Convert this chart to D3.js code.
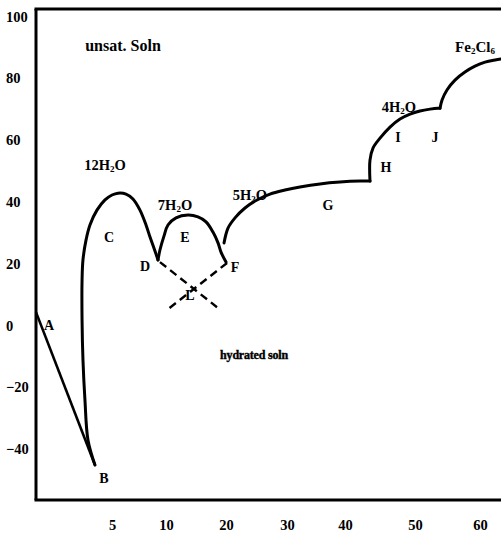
<!DOCTYPE html>
<html>
<head>
<meta charset="utf-8">
<script src="https://cdn.jsdelivr.net/npm/d3@7"></script>
<style>
  html, body { margin: 0; padding: 0; background: #fff; }
  svg { display: block; }
  text { font-family: "Liberation Serif", "DejaVu Serif", serif; font-weight: bold; fill: #000; }
</style>
</head>
<body>
<script>
// ---- Data (x: composition axis, y: temperature °C) ----
const xTickValues = [5, 10, 20, 30, 40, 50, 60];
const yTickValues = [100, 80, 60, 40, 20, 0, -20, -40];

// ice line A -> B
const iceLine = [[0, 4.3], [3.88, -45.2]];
// 12H2O branch B -> C -> D
const branch12 = [[3.88, -45.2], [3.42, -37.1], [3.22, -24.1], [3.09, -11.2], [3.03, 1.7], [3.03, 14.7],
  [3.09, 21.2], [3.29, 27.6], [3.55, 32.5], [4.01, 37.3], [4.54, 40.6], [5.0, 42.2], [5.56, 42.8],
  [6.30, 42.5], [6.94, 40.9], [7.59, 37.3], [8.15, 32.5], [8.52, 28.6], [8.89, 25.0], [9.26, 21.2]];
// 7H2O branch D -> E -> F
const branch7 = [[9.26, 21.2], [9.44, 24.4], [9.81, 28.9], [10.33, 32.5], [11.67, 34.8], [13.67, 35.7],
  [15.33, 35.1], [16.67, 33.5], [17.83, 30.2], [18.67, 26.7], [19.17, 23.7], [20.0, 20.5]];
// 5H2O branch F -> G -> H
const branch5 = [[19.67, 26.7], [20.33, 31.5], [21.48, 34.8], [23.11, 38.0], [25.08, 40.6], [27.21, 42.5],
  [29.67, 43.8], [32.24, 44.8], [35.69, 45.8], [39.14, 46.4], [42.14, 46.7], [43.57, 46.7]];
// 4H2O branch H -> I -> J
const branch4 = [[43.57, 46.7], [43.57, 53.5], [44.0, 57.4], [45.0, 60.6], [46.43, 64.2], [47.86, 66.8],
  [49.29, 68.4], [50.77, 69.4], [52.31, 70.0], [53.54, 70.3], [53.85, 70.3]];
// anhydrous Fe2Cl6 branch from J
const branchAnh = [[53.85, 70.3], [54.15, 72.9], [54.92, 76.2], [56.15, 79.4], [57.69, 82.0],
  [59.23, 83.9], [60.77, 85.2], [62.31, 85.9], [63.2, 86.2]];
// metastable (dashed) extensions through L
const dashed1 = [[9.44, 20.5], [18.5, 5.9]];
const dashed2 = [[20.17, 20.2], [10.17, 5.0]];

// labels: [text, x, y, size]
const labels = [
  ["unsat. Soln", 6.02, 90.7, 16],
  ["12H|2|O", 4.54, 51.9, 14.5],
  ["C", 4.8, 28.6, 14],
  ["7H|2|O", 11.5, 38.9, 14.5],
  ["E", 13.17, 28.6, 14],
  ["D", 8.06, 19.2, 14],
  ["F", 21.48, 18.9, 14],
  ["L", 14.0, 9.8, 14],
  ["5H|2|O", 23.93, 42.2, 14.5],
  ["G", 37.07, 39.0, 14],
  ["H", 45.86, 51.3, 14],
  ["I", 47.57, 61.0, 14],
  ["J", 53.08, 61.0, 14],
  ["4H|2|O", 47.71, 70.7, 14.5],
  ["Fe|2|Cl|6|", 59.23, 90.1, 15],
  ["A", 0.86, 0.1, 14],
  ["B", 4.47, -49.4, 14]
];
const regionLabel = ["hydrated soln", 24.59, -9.6];

// ---- Scales ----
const W = 501, H = 535;
const x = d3.scaleLinear()
  .domain([0, 5, 10, 20, 30, 40, 50, 60, 63.2])
  .range([36, 112, 166, 226, 287, 345, 415, 480, 501]);
const y = d3.scaleLinear().domain([-56.5, 102.4]).range([500, 9]);

const svg = d3.select("body").append("svg").attr("width", W).attr("height", H);

// frame: left axis, bottom axis, top border
svg.append("line").attr("x1", x(0)).attr("x2", x(0)).attr("y1", y(102.4)).attr("y2", y(-56.5))
  .attr("stroke", "#000").attr("stroke-width", 3);
svg.append("line").attr("x1", x(0) - 1.5).attr("x2", W).attr("y1", y(-56.5)).attr("y2", y(-56.5))
  .attr("stroke", "#000").attr("stroke-width", 3);
svg.append("line").attr("x1", x(0) - 1.5).attr("x2", W).attr("y1", y(102.4)).attr("y2", y(102.4))
  .attr("stroke", "#000").attr("stroke-width", 3);

// axes (labels only)
const yAxis = svg.append("g")
  .call(d3.axisLeft(y).tickValues(yTickValues).tickSize(0).tickFormat(d3.format("d")));
yAxis.select(".domain").remove();
yAxis.selectAll("text").attr("x", 6).attr("text-anchor", "start")
  .style("font-family", "Liberation Serif").style("font-weight", "bold").style("font-size", "14.5px");

const xAxis = svg.append("g").attr("transform", `translate(0,${y(-56.5)})`)
  .call(d3.axisBottom(x).tickValues(xTickValues).tickSize(0).tickFormat(d3.format("d")));
xAxis.select(".domain").remove();
xAxis.selectAll("text").attr("dy", 0).attr("y", 30)
  .style("font-family", "Liberation Serif").style("font-weight", "bold").style("font-size", "14.5px");

// curves
const smooth = d3.line().x(d => x(d[0])).y(d => y(d[1])).curve(d3.curveCatmullRom.alpha(0.5));
const straight = d3.line().x(d => x(d[0])).y(d => y(d[1]));

svg.append("path").attr("d", straight(iceLine)).attr("fill", "none").attr("stroke", "#000").attr("stroke-width", 2.6);
[branch12, branch7, branch5, branch4, branchAnh].forEach(b => {
  svg.append("path").attr("d", smooth(b)).attr("fill", "none").attr("stroke", "#000")
    .attr("stroke-width", 3).attr("stroke-linejoin", "round").attr("stroke-linecap", "round");
});
[dashed1, dashed2].forEach(b => {
  svg.append("path").attr("d", straight(b)).attr("fill", "none").attr("stroke", "#000")
    .attr("stroke-width", 2.4).attr("stroke-dasharray", "8,5");
});

// labels with subscripts (segments split by |, odd segments are subscripts)
labels.forEach(([t, lx, ly, sz]) => {
  const txt = svg.append("text").attr("x", x(lx)).attr("y", y(ly)).attr("dy", "0.35em")
    .attr("text-anchor", "middle").style("font-size", sz + "px");
  t.split("|").forEach((seg, i) => {
    if (!seg) return;
    const ts = txt.append("tspan").text(seg);
    if (i % 2 === 1) ts.attr("baseline-shift", "-25%").style("font-size", "9px");
  });
});
svg.append("text").attr("x", x(regionLabel[1])).attr("y", y(regionLabel[2])).attr("dy", "0.35em")
  .attr("text-anchor", "middle").style("font-size", "12px").style("letter-spacing", "-0.2px")
  .attr("stroke", "#000").attr("stroke-width", 0.4)
  .text(regionLabel[0]);
</script>
</body>
</html>
